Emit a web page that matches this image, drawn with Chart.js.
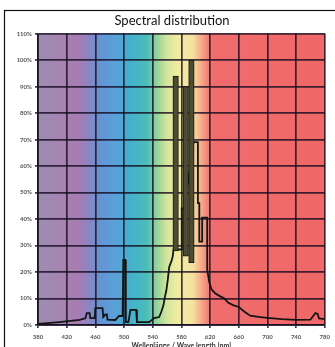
<!DOCTYPE html>
<html>
<head>
<meta charset="utf-8">
<script src="https://cdn.jsdelivr.net/npm/chart.js@4/dist/chart.umd.min.js"></script>
<style>
    html, body { margin: 0; padding: 0; background: #fff; overflow: hidden; }
    #wrap { position: relative; width: 335px; height: 355px; }
</style>
</head>
<body>
<div id="wrap"><canvas id="spectrum-chart"></canvas></div>
<script>
// Wavelength ticks (nm) and percentage ticks
const xTicks = [380, 420, 460, 500, 540, 580, 620, 660, 700, 740, 780];
const yTicks = [0, 10, 20, 30, 40, 50, 60, 70, 80, 90, 100, 110];

// Outline of the spectrum (nm / %)
const wavelengths = [
    380, 410, 438, 446, 448, 449, 452, 453, 459, 460, 470, 471, 474, 476, 477,
    488, 493, 498, 499, 501.5, 502.5, 506, 509, 510, 517, 518, 535, 542, 549,
    552, 555, 557, 559, 561, 563, 566, 568, 569, 580, 580.5, 584,
    597, 603, 603, 605, 605, 609, 609, 616, 616, 619, 622, 627, 633, 640,
    645, 652, 660, 668, 676, 690, 700, 720, 740, 760, 764, 767, 770, 772, 780
];
const intensity = [
    0.4, 1.1, 1.9, 2.5, 4.5, 4.5, 4.5, 2.6, 2.6, 6.4, 6.4, 3, 4, 4, 2,
    1.9, 3.4, 3.4, 24.6, 24.6, 1.1, 1.1, 5.7, 5.7, 5.7, 1.1, 1.1, 2.6, 3,
    5, 7.5, 10.6, 13, 17, 21.9, 24, 26, 28.5, 28.5, 44, 44,
    69, 69, 46, 46, 31.5, 31.5, 40.5, 40.5, 21, 16, 13.5, 12, 11, 10,
    8.5, 7.5, 6.8, 5, 3.5, 3, 2.7, 2.2, 1.9, 2, 3.5, 4.5, 4.2, 2.5, 2.2
];

// Narrow filled emission peaks (nm, low %, high %)
const peakCenters = [572, 586, 594];
const peakLow = [28, 26, 23.5];
const peakHigh = [94, 90, 100];

const spectrumStops = [
    [380, '#9c8db0'], [410, '#a585b2'], [435, '#a97bb0'], [452, '#8a86c4'],
    [466, '#6494d4'], [490, '#58a2d8'], [510, '#43b2cc'], [532, '#4abdb8'],
    [546, '#96d39a'], [560, '#d4e69c'], [575, '#f1eca2'], [596, '#f5e2a0'],
    [606, '#f6b48c'], [616, '#f3847a'], [624, '#f06c6c'], [780, '#f06868']
];

const outline = wavelengths.map((w, i) => ({ x: w, y: intensity[i] }));
const peaks = peakCenters.map((c, i) => ({ x: c, y: [peakLow[i], peakHigh[i]] }));

// Colour band behind the plot, following the x scale
const spectrumBackground = {
    id: 'spectrumBackground',
    beforeDraw(chart) {
        const { ctx, chartArea, scales } = chart;
        const x0 = scales.x.getPixelForValue(380);
        const x1 = scales.x.getPixelForValue(780);
        const grad = ctx.createLinearGradient(x0, 0, x1, 0);
        spectrumStops.forEach(([nm, col]) => grad.addColorStop((nm - 380) / 400, col));
        ctx.save();
        ctx.fillStyle = grad;
        ctx.fillRect(chartArea.left, chartArea.top, chartArea.width, chartArea.height);
        ctx.restore();
    }
};

// Thin frame around the whole figure
const outerFrame = {
    id: 'outerFrame',
    afterDraw(chart) {
        const ctx = chart.ctx;
        ctx.save();
        ctx.strokeStyle = '#111';
        ctx.lineWidth = 1.2;
        ctx.strokeRect(4.5, 10.5, 360, 400);
        ctx.restore();
    }
};

const gridColor = 'rgba(20, 10, 30, 0.8)';

new Chart(document.getElementById('spectrum-chart'), {
    type: 'bar',
    data: {
        datasets: [{
            type: 'bar',
            data: peaks,
            backgroundColor: '#4c4c36',
            borderColor: '#181810',
            borderWidth: 1,
            borderSkipped: false,
            barThickness: 5.5,
            order: 0
        }, {
            type: 'line',
            data: outline,
            borderColor: '#141414',
            borderWidth: 1.8,
            pointRadius: 0,
            tension: 0,
            fill: false,
            order: 1
        }]
    },
    options: {
        responsive: true,
        maintainAspectRatio: false,
        animation: false,
        layout: { padding: { left: 17, right: 8, top: 10, bottom: 0 } },
        plugins: {
            legend: { display: false },
            tooltip: { enabled: false },
            title: {
                display: true,
                text: 'Spectral distribution',
                color: '#111',
                font: { family: 'Lato', size: 13, weight: 'normal' },
                padding: { top: 3, bottom: 5 }
            }
        },
        scales: {
            x: {
                type: 'linear',
                min: 380,
                max: 780,
                offset: false,
                afterBuildTicks: scale => { scale.ticks = xTicks.map(v => ({ value: v })); },
                afterFit: scale => { scale.height = 30; },
                grid: { color: gridColor, lineWidth: 1.7, tickLength: 3, offset: false },
                border: { color: gridColor, width: 1.7 },
                ticks: {
                    color: '#555',
                    font: { family: 'Lato', size: 6, weight: 'bold' },
                    padding: 5,
                    maxRotation: 0,
                    autoSkip: false
                },
                title: {
                    display: true,
                    text: 'Wellenlänge / Wave length [nm]',
                    color: '#333',
                    font: { family: 'Lato', size: 7, weight: 'bold' },
                    padding: { top: 0, bottom: 5 }
                }
            },
            y: {
                min: 0,
                max: 110,
                afterBuildTicks: scale => { scale.ticks = yTicks.map(v => ({ value: v })); },
                afterFit: scale => { scale.width = 21; },
                grid: { color: gridColor, lineWidth: 1.7, tickLength: 3 },
                border: { color: gridColor, width: 1.7 },
                ticks: {
                    color: '#555',
                    font: { family: 'Lato', size: 6, weight: 'bold' },
                    padding: 3,
                    callback: v => v + '%'
                }
            }
        }
    },
    plugins: [spectrumBackground, outerFrame]
});
</script>
</body>
</html>
